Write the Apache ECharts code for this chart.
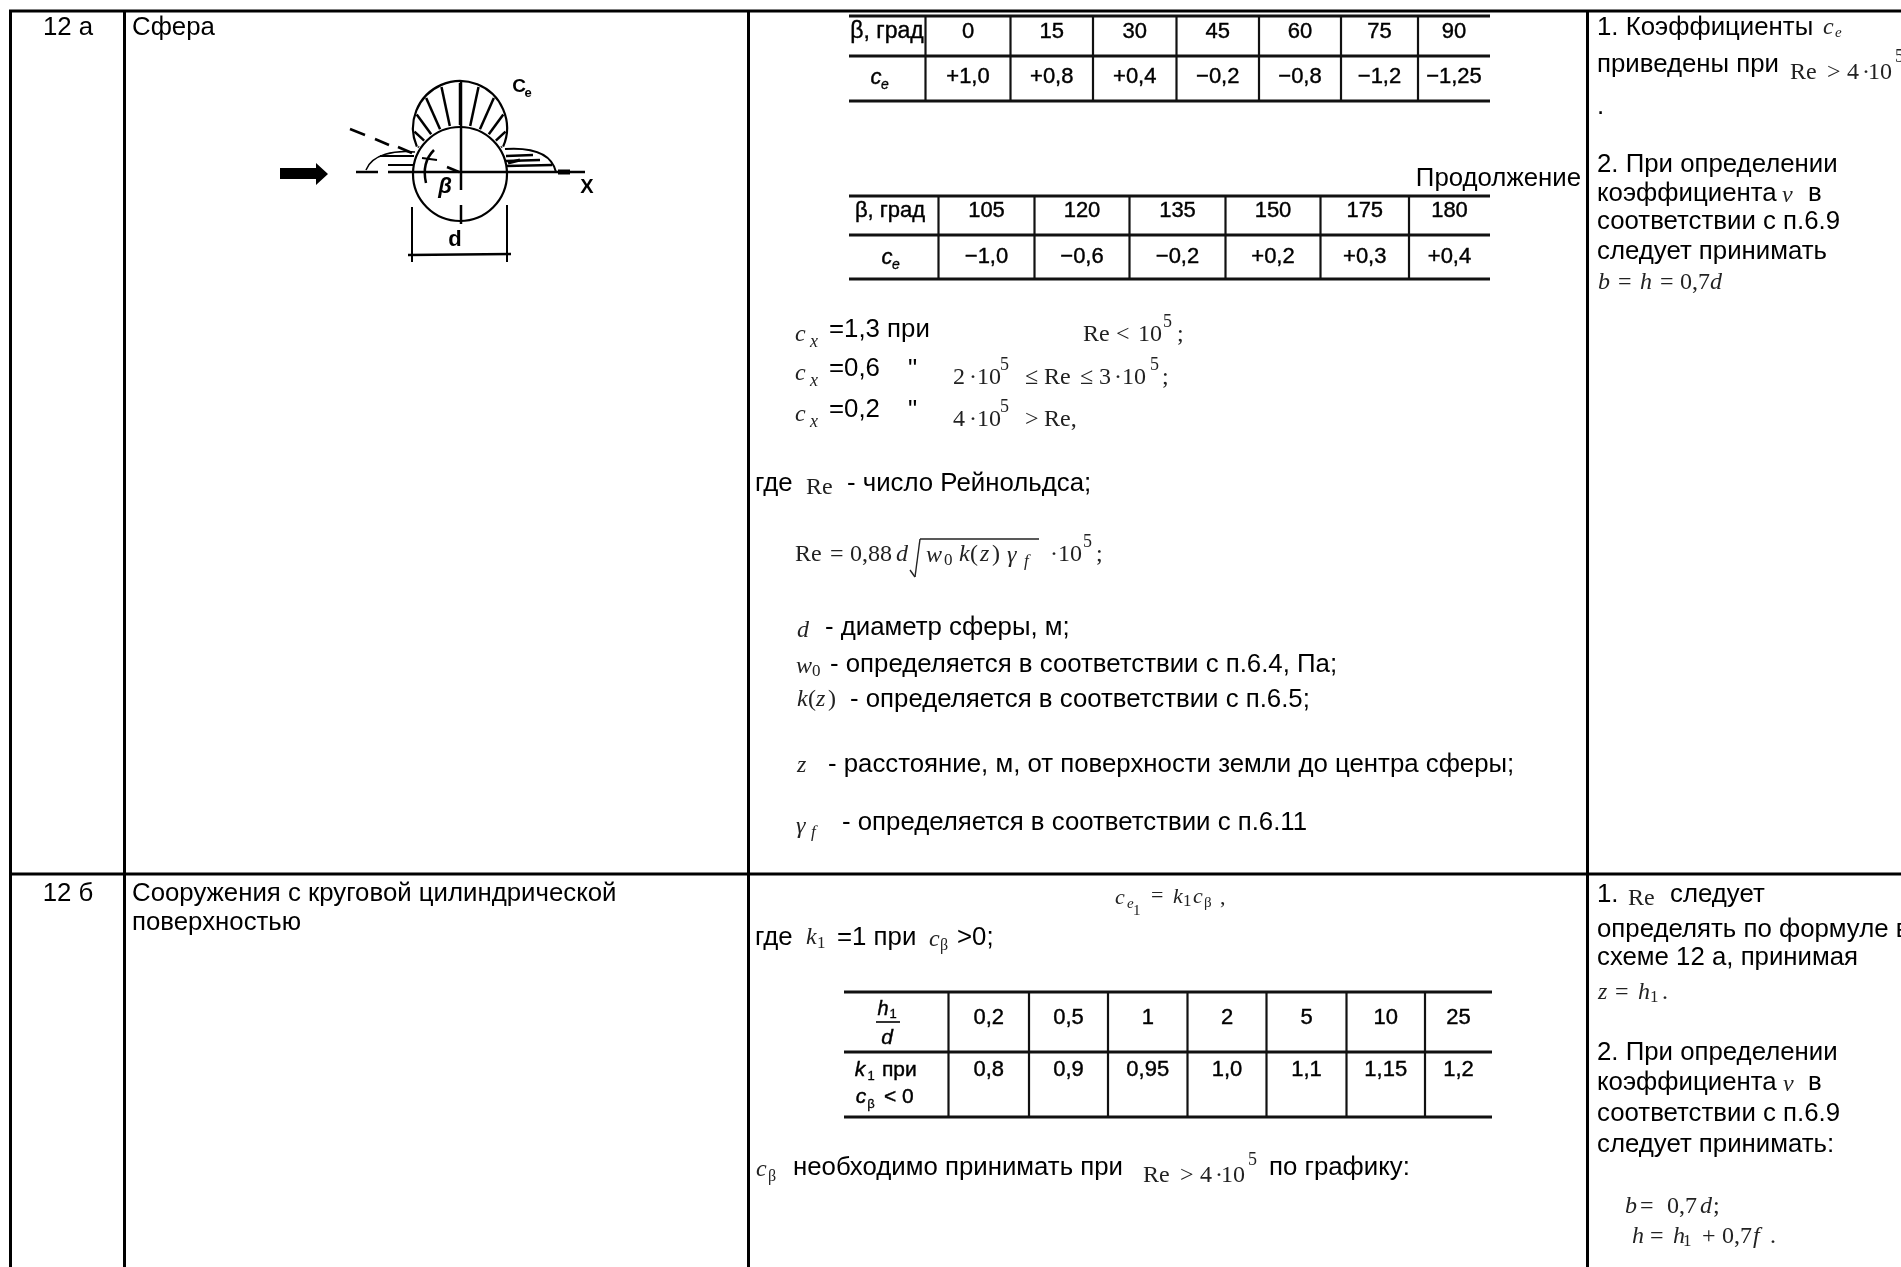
<!DOCTYPE html>
<html>
<head>
<meta charset="utf-8">
<title>Схемы 12 а, 12 б</title>
<script src="https://cdn.jsdelivr.net/npm/echarts@6/dist/echarts.min.js"></script>
<style>
  html, body { margin: 0; padding: 0; background: #fff; }
  #chart { width: 1901px; height: 1267px; }
</style>
</head>
<body>
<div id="chart"></div>
<script>
// таблица 1, схема 12 а
const betaHead1 = ["0", "15", "30", "45", "60", "75", "90"];
const ceValues1 = ["+1,0", "+0,8", "+0,4", "−0,2", "−0,8", "−1,2", "−1,25"];
// продолжение таблицы
const betaHead2 = ["105", "120", "135", "150", "175", "180"];
const ceValues2 = ["−1,0", "−0,6", "−0,2", "+0,2", "+0,3", "+0,4"];
// таблица схема 12 б
const ratioHead = ["0,2", "0,5", "1", "2", "5", "10", "25"];
const k1Values = ["0,8", "0,9", "0,95", "1,0", "1,1", "1,15", "1,2"];
// направления стрелок на эпюре, градусы от вертикали
const lobeArrows = [-57, -47, -36, -24, -12, 0, 12, 24, 36, 47, 57];

const SANS = '"Liberation Sans", Arial, sans-serif';
const SERIF = '"Liberation Serif", "Times New Roman", serif';
const els = [];

function line(x1, y1, x2, y2, w, color) {
  els.push({
    type: "line", silent: true,
    shape: { x1, y1, x2, y2 },
    style: { stroke: color || "#000", lineWidth: w || 2 },
  });
}

function text(str, x, y, font, opts) {
  opts = opts || {};
  els.push({
    type: "text", silent: true, x, y,
    style: {
      text: str, font,
      fill: opts.fill || "#000",
      textAlign: opts.align || "left",
      textVerticalAlign: "middle",
      stroke: opts.heavy ? "#000" : null,
      lineWidth: opts.heavy ? opts.heavy : 0,
    },
  });
}

// обычный текст ячеек
const body = (s, x, y, opts) => text(s, x, y, "25.8px " + SANS, opts);
// формулы: серый Times
const math = (s, x, y, size) => text(s, x, y, (size || 24) + "px " + SERIF, { fill: "#222" });
const mathI = (s, x, y, size) => text(s, x, y, "italic " + (size || 24) + "px " + SERIF, { fill: "#222" });
// подписи в сканированных таблицах
const cell = (s, x, y, size) => text(s, x, y, (size || 22) + "px " + SANS, { align: "center", heavy: 0.4 });

function subTable(left, right, ys, cols, head, values, headY, rowY) {
  ys.forEach((y) => line(left, y, right, y, 3, "#111"));
  cols.forEach((x) => line(x, ys[0], x, ys[ys.length - 1], 2.2, "#111"));
  const edges = cols.concat([right]);
  head.forEach((s, i) => cell(s, (edges[i] + edges[i + 1]) / 2, headY));
  values.forEach((s, i) => cell(s, (edges[i] + edges[i + 1]) / 2, rowY));
}

// выражение Re > 4·10^5
function reGreater(x, y) {
  math("Re", x, y);
  math(">", x + 37, y);
  math("4", x + 57, y);
  math("·", x + 72, y);
  math("10", x + 78, y);
  math("5", x + 105, y - 16, 18);
}

// сетка основной таблицы
[11, 874].forEach((y) => line(9, y, 1901, y, 3));
[10.5, 124.5, 748.5, 1587.5].forEach((x) => line(x, 10, x, 1267, 3));

// первые два столбца
body("12 а", 68, 28, { align: "center" });
body("Сфера", 132, 28);
body("12 б", 68, 894, { align: "center" });
body("Сооружения с круговой цилиндрической", 132, 894);
body("поверхностью", 132, 923);

// схема сферы
const cx = 460, cy = 174, lobeY = 128, R = 47;
els.push({ type: "circle", silent: true, shape: { cx, cy, r: R }, style: { fill: "none", stroke: "#000", lineWidth: 2.2 } });
els.push({ type: "arc", silent: true, shape: { cx, cy: lobeY, r: R, startAngle: Math.PI * 0.87, endAngle: Math.PI * 2.13 }, style: { fill: "none", stroke: "#000", lineWidth: 2.2 } });
lobeArrows.forEach((a) => {
  const r = (a * Math.PI) / 180;
  const d = cy - lobeY;
  const out = d * Math.cos(r) + Math.sqrt(R * R - d * d * Math.sin(r) * Math.sin(r));
  line(cx + (R + 2) * Math.sin(r), cy - (R + 2) * Math.cos(r), cx + (out - 2) * Math.sin(r), cy - (out - 2) * Math.cos(r), 2.5);
});
line(388, 172, 585, 172, 2.5);
line(356, 172, 378, 172, 2.5);
line(558, 172, 570, 172, 5);
line(cx + 1, 82, cx + 1, 190, 2.5);
line(cx + 1, 205, cx + 1, 224, 2.5);
// правая и левая эпюры
els.push({ type: "bezierCurve", silent: true, shape: { x1: 505, y1: 149, cpx1: 535, cpy1: 147, cpx2: 552, cpy2: 155, x2: 556, y2: 172 }, style: { fill: "none", stroke: "#000", lineWidth: 2 } });
els.push({ type: "bezierCurve", silent: true, shape: { x1: 415, y1: 152, cpx1: 395, cpy1: 150, cpx2: 372, cpy2: 154, x2: 366, y2: 170 }, style: { fill: "none", stroke: "#000", lineWidth: 1.5 } });
[[156, 533], [161, 540], [166, 552]].forEach((p) => line(506, p[0], p[1], p[0] - 1, 2.5));
[[156, 380], [165, 388]].forEach((p) => line(p[1], p[0], 414, p[0], 2));
line(508, 163, 520, 160, 3);
// штриховая линия
[[350, 129, 365, 135], [375, 139, 389, 145], [398, 147, 412, 153], [447, 167, 459, 172]].forEach((p) => line(p[0], p[1], p[2], p[3], 2.5));
// дуга угла
els.push({ type: "bezierCurve", silent: true, shape: { x1: 426, y1: 183, cpx1: 423, cpy1: 170, cpx2: 426, cpy2: 158, x2: 434, y2: 150 }, style: { fill: "none", stroke: "#000", lineWidth: 2.5 } });
line(422, 158, 437, 160, 2);
// стрелка потока
els.push({
  type: "polygon", silent: true,
  shape: { points: [[280, 168], [316, 168], [316, 163], [328, 174], [316, 185], [316, 179], [280, 179]] },
  style: { fill: "#000" },
});
// размер d
line(412, 207, 412, 262, 2);
line(507, 205, 507, 262, 2);
line(408, 255, 511, 254, 2.5);
text("d", 455, 240, "bold 22px " + SANS, { align: "center" });
text("β", 445, 187, "italic bold 22px " + SANS, { align: "center" });
text("X", 587, 187, "bold 20px " + SANS, { align: "center" });
text("C", 519, 87, "bold 19px " + SANS, { align: "center" });
text("e", 528, 93, "bold 13px " + SANS, { align: "center" });

// таблицы третьего столбца
subTable(849, 1490, [16, 56, 101], [925.5, 1010.5, 1093, 1176.5, 1259, 1341, 1418], betaHead1, ceValues1, 32, 77);
cell("β, град", 887, 32, 23);
text("c", 876, 78, "italic 22px " + SANS, { align: "center", heavy: 0.4 });
text("e", 885, 85, "italic 14px " + SANS, { align: "center", heavy: 0.3 });

body("Продолжение", 1581, 179, { align: "right" });
subTable(849, 1490, [196, 235, 279], [938.5, 1034.5, 1129.5, 1225.5, 1320.5, 1409], betaHead2, ceValues2, 211, 257);
cell("β, град", 890, 211);
text("c", 887, 258, "italic 22px " + SANS, { align: "center", heavy: 0.4 });
text("e", 896, 265, "italic 14px " + SANS, { align: "center", heavy: 0.3 });

// условия для c_x
[["=1,3 при", 333], ["=0,6", 372], ["=0,2", 413]].forEach((r) => {
  mathI("c", 795, r[1] + 2);
  mathI("x", 810, r[1] + 9, 18);
  body(r[0], 829, r[1] - 3);
});
body("\"", 908, 370);
body("\"", 908, 411);
math("Re", 1083, 335);
math("<", 1116, 335);
math("10", 1138, 335);
math("5", 1163, 322, 18);
math(";", 1177, 335);
math("2", 953, 378);
math("·", 969, 378);
math("10", 977, 378);
math("5", 1000, 365, 18);
math("≤", 1025, 378);
math("Re", 1044, 378);
math("≤", 1080, 378);
math("3", 1099, 378);
math("·", 1114, 378);
math("10", 1122, 378);
math("5", 1150, 365, 18);
math(";", 1162, 378);
math("4", 953, 420);
math("·", 969, 420);
math("10", 977, 420);
math("5", 1000, 407, 18);
math(">", 1025, 420);
math("Re,", 1044, 420);

body("где", 755, 484);
math("Re", 806, 488);
body("- число Рейнольдса;", 847, 484);

math("Re", 795, 555);
math("=", 830, 555);
math("0,88", 850, 555);
mathI("d", 896, 555);
line(910, 570, 915, 577, 1.4, "#222");
line(915, 577, 920, 539, 1.4, "#222");
line(920, 539, 1039, 539, 1.4, "#222");
mathI("w", 926, 556);
math("0", 944, 561, 17);
mathI("k", 959, 555);
math("(", 970, 555);
mathI("z", 980, 555);
math(")", 992, 555);
mathI("γ", 1007, 556);
mathI("f", 1024, 562, 17);
math("·", 1050, 555);
math("10", 1058, 555);
math("5", 1083, 542, 18);
math(";", 1096, 555);

mathI("d", 797, 631);
body("- диаметр сферы, м;", 825, 628);
mathI("w", 796, 667);
math("0", 812, 672, 17);
body("- определяется в соответствии с п.6.4, Па;", 830, 665);
mathI("k", 797, 700);
math("(", 808, 700);
mathI("z", 816, 700);
math(")", 828, 700);
body("- определяется в соответствии с п.6.5;", 850, 700);
mathI("z", 797, 766);
body("- расстояние, м, от поверхности земли до центра сферы;", 828, 765);
mathI("γ", 796, 827);
mathI("f", 811, 833, 17);
body("- определяется в соответствии с п.6.11", 842, 823);

// схема 12 б
mathI("c", 1115, 898, 22);
mathI("e", 1127, 904, 15);
math("1", 1133, 911, 15);
math("=", 1151, 896, 22);
mathI("k", 1173, 897, 22);
math("1", 1183, 902, 17);
mathI("c", 1193, 897, 22);
math("β", 1204, 903, 15);
math(",", 1220, 898, 22);

body("где", 755, 938);
mathI("k", 806, 938);
math("1", 817, 944, 17);
body("=1 при", 837, 938);
mathI("c", 929, 940);
math("β", 940, 946, 16);
body(">0;", 957, 938);

subTable(844, 1492, [992, 1052, 1117], [948.5, 1029, 1108, 1187.5, 1266.5, 1346.5, 1425], ratioHead, k1Values, 1018, 1070);
text("h", 883, 1009, "italic 20px " + SANS, { align: "center", heavy: 0.4 });
text("1", 893, 1014, "13px " + SANS, { align: "center", heavy: 0.3 });
line(876, 1022, 900, 1022, 2, "#333");
text("d", 887, 1038, "italic 21px " + SANS, { align: "center", heavy: 0.4 });
text("k", 860, 1070, "italic 21px " + SANS, { align: "center", heavy: 0.4 });
text("1", 871, 1076, "13px " + SANS, { align: "center", heavy: 0.3 });
text("при", 882, 1070, "21px " + SANS, { heavy: 0.4 });
text("c", 861, 1097, "italic 21px " + SANS, { align: "center", heavy: 0.4 });
text("β", 871, 1104, "13px " + SANS, { align: "center", heavy: 0.3 });
text("< 0", 884, 1097, "21px " + SANS, { heavy: 0.4 });

mathI("c", 756, 1170);
math("β", 768, 1177, 16);
body("необходимо принимать при", 793, 1168);
reGreater(1143, 1176);
body("по графику:", 1269, 1168);

// примечания
body("1. Коэффициенты", 1597, 28);
mathI("c", 1823, 28);
mathI("e", 1835, 33, 15);
body("приведены при", 1597, 65);
reGreater(1790, 73);
body(".", 1597, 107);
body("2. При определении", 1597, 165);
body("коэффициента", 1597, 194);
mathI("ν", 1782, 196);
body("в", 1808, 194);
body("соответствии с п.6.9", 1597, 222);
body("следует принимать", 1597, 252);
mathI("b", 1598, 283);
math("=", 1618, 283);
mathI("h", 1640, 283);
math("=", 1660, 283);
math("0,7", 1680, 283);
mathI("d", 1710, 283);

body("1.", 1597, 895);
math("Re", 1628, 899);
body("следует", 1670, 895);
body("определять по формуле в", 1597, 930);
body("схеме 12 а, принимая", 1597, 958);
mathI("z", 1598, 993);
math("=", 1615, 993);
mathI("h", 1638, 993);
math("1", 1650, 998, 17);
math(".", 1662, 993);
body("2. При определении", 1597, 1053);
body("коэффициента", 1597, 1083);
mathI("ν", 1783, 1085);
body("в", 1808, 1083);
body("соответствии с п.6.9", 1597, 1114);
body("следует принимать:", 1597, 1145);
mathI("b", 1625, 1207);
math("=", 1640, 1207);
math("0,7", 1667, 1207);
mathI("d", 1700, 1207);
math(";", 1713, 1207);
mathI("h", 1632, 1237);
math("=", 1650, 1237);
mathI("h", 1673, 1237);
math("1", 1683, 1242, 17);
math("+", 1702, 1237);
math("0,7", 1722, 1237);
mathI("f", 1753, 1237);
math(".", 1770, 1237);

const chart = echarts.init(document.getElementById("chart"));
chart.setOption({
  backgroundColor: "#fff",
  animation: false,
  graphic: { elements: els },
});
</script>
</body>
</html>
